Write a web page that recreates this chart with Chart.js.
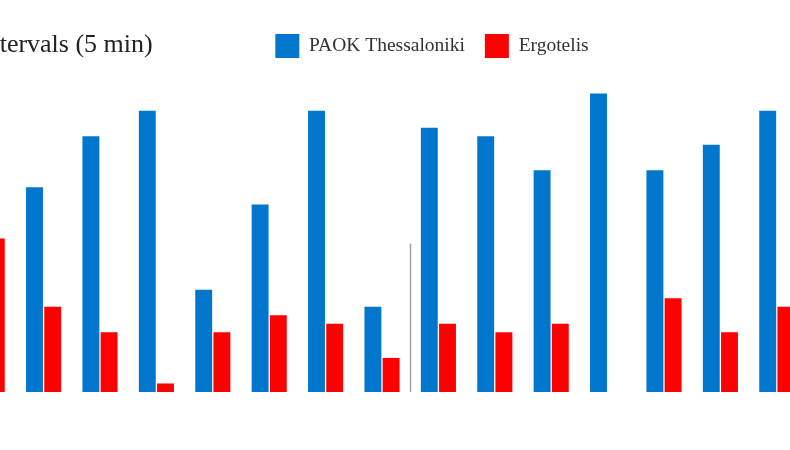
<!DOCTYPE html>
<html>
<head>
<meta charset="utf-8">
<script src="https://cdn.jsdelivr.net/npm/chart.js@4/dist/chart.umd.min.js"></script>
<style>
  html, body { margin: 0; padding: 0; background: #fff; overflow: hidden; }
  #view { position: relative; width: 790px; height: 450px; overflow: hidden; }
  #title {
    position: absolute; left: -22px; top: 29px;
    font: 26px "Liberation Serif", "Times New Roman", serif;
    line-height: 30px; color: #222; white-space: nowrap;
  }
  #wrap { position: absolute; left: -41px; top: 0; width: 946px; height: 450px; }
</style>
</head>
<body>
<div id="view">
  <div id="wrap"><canvas id="chart"></canvas></div>
  <div id="title">Intervals (5 min)</div>
</div>
<script>
// 5-minute intervals visible in the picture
const intervals = ["5-10", "10-15", "15-20", "20-25", "25-30", "30-35", "35-40", "40-45",
                   "45-50", "50-55", "55-60", "60-65", "65-70", "70-75", "75-80"];
const paok = [null, 24, 30, 33, 12, 22, 33, 10, 31, 30, 26, 35, 26, 29, 33];
const ergotelis = [18, 10, 7, 1, 7, 9, 8, 4, 8, 7, 8, 0, 11, 7, 10];

// half-time marker between 40-45 and 45-50
const halftimeAfter = 7;
const halftimeMarkerTop = 17.4;

const yMax = 38;

const halftimeLine = {
    id: "halftimeLine",
    afterDatasetsDraw(chart) {
        const { ctx, scales: { x, y } } = chart;
        const px = Math.round((x.getPixelForValue(halftimeAfter) + x.getPixelForValue(halftimeAfter + 1)) / 2) + 0.5;
        ctx.save();
        ctx.strokeStyle = "#a0a0a0";
        ctx.lineWidth = 1.5;
        ctx.beginPath();
        ctx.moveTo(px, y.getPixelForValue(halftimeMarkerTop));
        ctx.lineTo(px, y.getPixelForValue(0));
        ctx.stroke();
        ctx.restore();
    }
};

new Chart(document.getElementById("chart"), {
    type: "bar",
    data: {
        labels: intervals,
        datasets: [
            {
                label: "PAOK Thessaloniki",
                data: paok,
                backgroundColor: "#0077cc",
                categoryPercentage: 0.645,
                barPercentage: 0.93,
            },
            {
                label: "Ergotelis",
                data: ergotelis,
                backgroundColor: "#ff0000",
                categoryPercentage: 0.645,
                barPercentage: 0.93,
            },
        ],
    },
    options: {
        responsive: true,
        maintainAspectRatio: false,
        animation: false,
        layout: { padding: { top: 14, bottom: 58, left: 0, right: 0 } },
        plugins: {
            legend: {
                position: "top",
                labels: {
                    boxWidth: 24,
                    boxHeight: 24,
                    padding: 20,
                    color: "#333",
                    font: { family: "'Liberation Serif', serif", size: 19.5 },
                },
            },
            tooltip: { enabled: false },
        },
        scales: {
            x: {
                display: false,
            },
            y: {
                position: "right",
                min: 0,
                max: yMax,
                grid: { display: false },
                border: { display: false },
                ticks: { display: false },
                afterFit(scale) { scale.width = 100; },
            },
        },
    },
    plugins: [halftimeLine],
});
</script>
</body>
</html>
